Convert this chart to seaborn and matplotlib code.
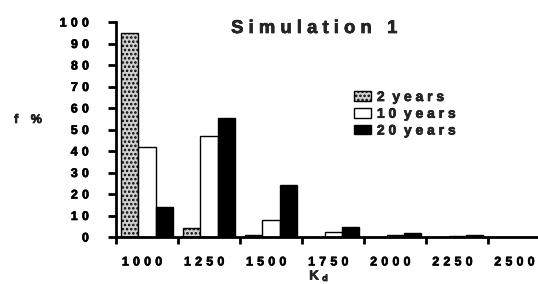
import matplotlib
matplotlib.use("Agg")
import matplotlib.pyplot as plt
import matplotlib.patheffects as pe
import seaborn as sns
import pandas as pd
import numpy as np
from matplotlib.ticker import FuncFormatter, FixedLocator

kd_labels = ["1000", "1250", "1500", "1750", "2000", "2250", "2500"]
years_2 = [95, 4, 1, 0, 0, 0, 0]
years_10 = [42, 47, 8, 2.5, 1, 0.5, 0]
years_20 = [14, 55.5, 24, 4.5, 2, 1, 0]
series_names = ["2 years", "10 years", "20 years"]
y_ticks = list(range(0, 101, 10))

sns.set_theme(style="ticks")
plt.rcParams["font.family"] = ["Liberation Sans", "DejaVu Sans"]
plt.rcParams["font.weight"] = "bold"
plt.rcParams["hatch.linewidth"] = 1.2

HEAVY = [pe.withStroke(linewidth=0.45, foreground="black")]
GAP = "\u2004"

def spaced(s, sep=GAP):
    return sep.join(list(s))

rows = []
for name, vals in zip(series_names, [years_2, years_10, years_20]):
    for k, v in zip(kd_labels, vals):
        rows.append({"Kd": k, "f": v, "series": name})
df = pd.DataFrame(rows)

fig = plt.figure(figsize=(5.38, 2.84), dpi=100)
ax = fig.add_axes([116/538, 47/284, 1 - 116/538, (237-22)/284])

sns.barplot(data=df, x="Kd", y="f", hue="series", order=kd_labels,
            hue_order=series_names,
            palette=["#cfcfcf", "white", "black"], edgecolor="black",
            linewidth=1.0, width=0.84, ax=ax, legend=False, errorbar=None)

for p in ax.containers[0]:
    p.set_hatch("....")

ax.set_ylim(0, 100)
n = len(kd_labels)
ax.set_xlim(-0.5, n - 0.7)

for s in ["top", "right"]:
    ax.spines[s].set_visible(False)
for s in ["left", "bottom"]:
    ax.spines[s].set_linewidth(2.0)
    ax.spines[s].set_color("black")

ax.set_yticks(y_ticks)
ax.yaxis.set_major_formatter(FuncFormatter(lambda v, p: spaced(str(int(v)))))
ax.tick_params(axis="y", length=6, width=2.0, labelsize=9, pad=13.5, colors="black")

idx = np.arange(n)
ax.set_xticks(idx - 0.08)
ax.set_xticklabels([spaced(k) for k in kd_labels], fontsize=9, fontweight="bold")
ax.tick_params(axis="x", which="major", length=0, pad=14, colors="black")
ax.xaxis.set_minor_locator(FixedLocator(idx - 0.5))
ax.tick_params(axis="x", which="minor", length=5, width=2.0, colors="black")
for lab in ax.get_yticklabels() + ax.get_xticklabels():
    lab.set_fontweight("bold")
    lab.set_path_effects(HEAVY)

ax.set_xlabel("")
ax.set_ylabel("")
fig.text(314/538, 1 - 276.5/284, "K", fontsize=9.5, fontweight="bold",
         ha="center", va="center", path_effects=HEAVY)
fig.text(325/538, 1 - 278.5/284, "d", fontsize=6.5, fontweight="bold",
         ha="center", va="center", path_effects=HEAVY)
fig.text(28/538, 1 - 120/284, "f\u2002\u2002%", fontsize=9, fontweight="bold",
         ha="center", va="center", path_effects=HEAVY)

fig.text(314/538, 1 - 28.5/284, " ".join(list("Simulation")) + "   1", fontsize=13.3,
         fontweight="bold", ha="center", va="center", path_effects=HEAVY)

handles = [c[0] for c in ax.containers]
labels = [" ".join(list(s.split()[0])) + "  " + " ".join(list(s.split()[1])) for s in series_names]
leg = ax.legend(handles, labels,
                loc="upper left", bbox_to_anchor=((354-116)/422, (237-90)/215),
                frameon=False, fontsize=10, handlelength=1.22, handleheight=0.65,
                handletextpad=0.43, labelspacing=0.2, borderaxespad=0, borderpad=0)
for t in leg.get_texts():
    t.set_fontweight("bold")
    t.set_path_effects(HEAVY)

fig.savefig("out.png", dpi=100, facecolor="white")
